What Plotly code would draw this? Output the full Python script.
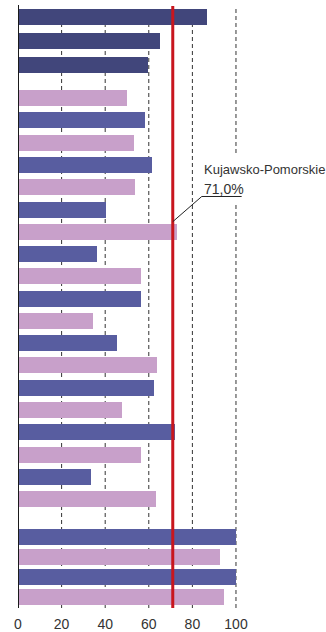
import plotly.graph_objects as go

# Values in percent, listed top to bottom within each block
top_categories = ["g1", "g2", "g3"]
top_values = [86.7, 65.1, 59.6]

middle_categories = [f"r{i}" for i in range(1, 20)]
middle_series = ["pink", "blue", "pink", "blue", "pink", "blue", "pink", "blue", "pink", "blue",
                 "pink", "blue", "pink", "blue", "pink", "blue", "pink", "blue", "pink"]
middle_values = [50.0, 58.3, 53.2, 61.5, 53.7, 40.4, 72.9, 36.2, 56.4, 56.4,
                 34.4, 45.4, 63.8, 62.4, 47.7, 72.0, 56.4, 33.5, 63.3]

bottom_categories = ["s1", "s2", "s3", "s4"]
bottom_series = ["blue", "pink", "blue", "pink"]
bottom_values = [100.0, 92.7, 100.0, 94.5]

reference_value = 71.0
reference_name = "Kujawsko-Pomorskie"
reference_label = "71,0%"

x_ticks = [0, 20, 40, 60, 80, 100]

NAVY = "#41467b"
BLUE = "#585da0"
PINK = "#c8a0ca"
RED = "#c8161e"
TEXT = "#333333"
FONT = "Liberation Sans, Arial, sans-serif"

colors = {"blue": BLUE, "pink": PINK}

fig = go.Figure()

# top block
fig.add_trace(go.Bar(y=top_categories, x=top_values, orientation="h",
                     marker=dict(color=NAVY, line=dict(width=0)),
                     width=0.667, xaxis="x", yaxis="y"))


def add_block(categories, series, values, yaxis, width):
    for key in ("pink", "blue"):
        ys = [c for c, s in zip(categories, series) if s == key]
        xs = [v for v, s in zip(values, series) if s == key]
        fig.add_trace(go.Bar(y=ys, x=xs, orientation="h",
                             marker=dict(color=colors[key], line=dict(width=0)),
                             width=width, xaxis="x", yaxis=yaxis))


add_block(middle_categories, middle_series, middle_values, "y2", 0.72)
add_block(bottom_categories, bottom_series, bottom_values, "y3", 0.8)

x_max = 141.3


def cat_axis(cats, domain):
    return dict(domain=domain, type="category", categoryorder="array",
                categoryarray=cats, autorange="reversed",
                showticklabels=False, showgrid=False, zeroline=False,
                showline=False, ticks="", fixedrange=True)


shapes = []
# dashed vertical grid lines running through all blocks
for t in x_ticks[1:]:
    shapes.append(dict(type="line", xref="x", yref="paper", x0=t, x1=t,
                       y0=0, y1=0.9934, layer="below",
                       line=dict(color=TEXT, width=1, dash="4px,3px")))
# blank area behind the callout text
shapes.append(dict(type="rect", xref="x", yref="paper", x0=83, x1=x_max,
                   y0=0.6722, y1=0.7517, layer="below",
                   fillcolor="white", line=dict(width=0)))
# value axis baseline
shapes.append(dict(type="line", xref="x", yref="paper", x0=0, x1=0,
                   y0=0, y1=0.9983, layer="above",
                   line=dict(color="#1a1a1a", width=2)))
# reference line
shapes.append(dict(type="line", xref="x", yref="paper", x0=reference_value,
                   x1=reference_value, y0=0, y1=0.9967, layer="above",
                   line=dict(color=RED, width=3)))
# callout leader and underline
shapes.append(dict(type="line", xref="x", yref="paper", x0=reference_value,
                   x1=84.3, y0=0.6396, y1=0.6813, layer="above",
                   line=dict(color="#222222", width=1)))
shapes.append(dict(type="line", xref="x", yref="paper", x0=84.3,
                   x1=102.6, y0=0.6813, y1=0.6813, layer="above",
                   line=dict(color="#222222", width=1)))

annotations = [
    dict(x=84.3, y=0.7268, xref="x", yref="paper", text=reference_name,
         showarrow=False, xanchor="left", yanchor="middle",
         font=dict(family=FONT, size=13, color=TEXT)),
    dict(x=84.3, y=0.6937, xref="x", yref="paper", text=reference_label,
         showarrow=False, xanchor="left", yanchor="middle",
         font=dict(family=FONT, size=14, color=TEXT)),
]

fig.update_layout(
    width=326, height=632,
    margin=dict(l=18, r=0, t=4, b=24),
    paper_bgcolor="white", plot_bgcolor="rgba(0,0,0,0)",
    showlegend=False,
    bargap=0,
    xaxis=dict(range=[0, x_max], anchor="y3", tickvals=x_ticks,
               ticktext=[str(t) for t in x_ticks], ticks="outside",
               ticklen=4, tickcolor="rgba(0,0,0,0)", showgrid=False,
               zeroline=False, showline=False, fixedrange=True,
               tickfont=dict(family=FONT, size=14, color=TEXT)),
    yaxis=cat_axis(top_categories, [0.87914, 0.99834]),
    yaxis2=cat_axis(middle_categories, [0.16202, 0.86281]),
    yaxis3=cat_axis(bottom_categories, [0.00166, 0.13411]),
    shapes=shapes,
    annotations=annotations,
)

fig.write_html("out.html")
